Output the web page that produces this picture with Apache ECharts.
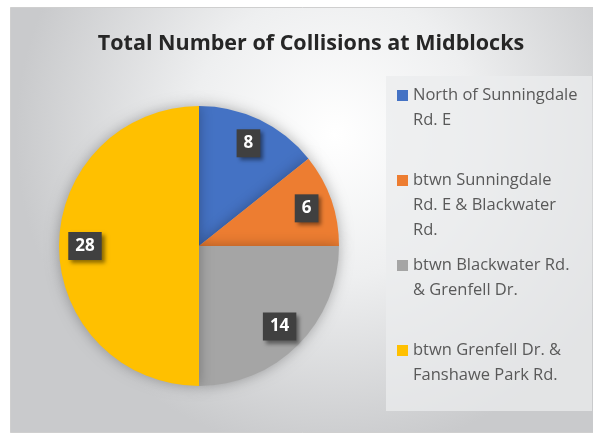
<!DOCTYPE html>
<html>
<head>
<meta charset="utf-8">
<script src="https://cdn.jsdelivr.net/npm/echarts@6/dist/echarts.min.js"></script>
<style>
  html, body { margin: 0; padding: 0; background: #fff; }
  #chart { width: 593px; height: 435px; }
</style>
</head>
<body>
<div id="chart"></div>
<script>
const titleText = 'Total Number of Collisions at Midblocks'
const segments = [
  'North of Sunningdale Rd. E',
  'btwn Sunningdale Rd. E & Blackwater Rd.',
  'btwn Blackwater Rd. & Grenfell Dr.',
  'btwn Grenfell Dr. & Fanshawe Park Rd.',
]
// how the legend wraps each name (as in the picture)
const legendLines = [
  ['North of Sunningdale', 'Rd. E'],
  ['btwn Sunningdale', 'Rd. E & Blackwater', 'Rd.'],
  ['btwn Blackwater Rd.', '& Grenfell Dr.'],
  ['btwn Grenfell Dr. &', 'Fanshawe Park Rd.'],
]
const collisions = [8, 6, 14, 28]
const colors = ['#4472C4', '#ED7D31', '#A5A5A5', '#FFC000']

const chart = echarts.init(document.getElementById('chart'))

const pieData = segments.map((name, i) => ({
  name,
  value: collisions[i],
  itemStyle: { color: colors[i] },
}))

// legend text padded to 3 lines so every entry gets the same slot
const legendText = {}
segments.forEach((name, i) => {
  const lines = legendLines[i].slice()
  while (lines.length < 3) lines.push('')
  legendText[name] = lines.join('\n')
})

chart.setOption({
  animation: false,
  graphic: [
    {
      type: 'rect',
      z: -10,
      shape: { x: 10.5, y: 7.5, width: 590, height: 425 },
      style: {
        fill: {
          type: 'radial', x: 0.55, y: 0.3, r: 0.75,
          colorStops: [
            { offset: 0, color: '#ffffff' },
            { offset: 0.45, color: '#eeeff0' },
            { offset: 1, color: '#c9cacc' },
          ],
        },
        stroke: '#cfcfcf',
        lineWidth: 1,
      },
    },
    {
      type: 'rect',
      z: -9,
      shape: { x: 386, y: 76, width: 206, height: 335 },
      style: { fill: 'rgba(235,236,238,0.75)' },
    },
  ],
  title: {
    text: titleText,
    left: 306,
    top: 28,
    textAlign: 'center',
    textStyle: {
      fontFamily: 'Open Sans',
      fontSize: 21.5,
      fontWeight: 'bold',
      color: '#262626',
    },
  },
  legend: {
    orient: 'vertical',
    left: 397,
    top: 83,
    padding: 0,
    itemGap: 10,
    itemWidth: 11,
    itemHeight: 75,
    icon: 'path://M0,0M0,7h11v11h-11zM0,75',
    data: segments,
    formatter: (name) => legendText[name],
    textStyle: {
      fontFamily: 'Open Sans',
      fontSize: 16.5,
      lineHeight: 25,
      color: '#595959',
    },
  },
  series: [
    {
      name: 'Collisions',
      type: 'pie',
      center: [199, 246],
      radius: 140,
      startAngle: 90,
      clockwise: true,
      label: { show: false },
      labelLine: { show: false },
      emphasis: { disabled: true },
      itemStyle: {
        shadowBlur: 14,
        shadowColor: 'rgba(0,0,0,0.3)',
      },
      data: pieData,
    },
    {
      name: 'Labels',
      type: 'pie',
      center: [199, 246],
      radius: [82, 140],
      startAngle: 90,
      clockwise: true,
      silent: true,
      emphasis: { disabled: true },
      itemStyle: { color: 'transparent' },
      labelLine: { show: false },
      label: {
        show: true,
        position: 'inside',
        formatter: '{c}',
        fontFamily: 'Open Sans',
        fontSize: 17,
        fontWeight: 'bold',
        color: '#ffffff',
        backgroundColor: '#404040',
        padding: [6, 7, 5, 7],
        shadowBlur: 4,
        shadowOffsetX: 3,
        shadowOffsetY: 3,
        shadowColor: 'rgba(0,0,0,0.45)',
      },
      data: segments.map((name, i) => ({ name, value: collisions[i] })),
    },
  ],
})
</script>
</body>
</html>
